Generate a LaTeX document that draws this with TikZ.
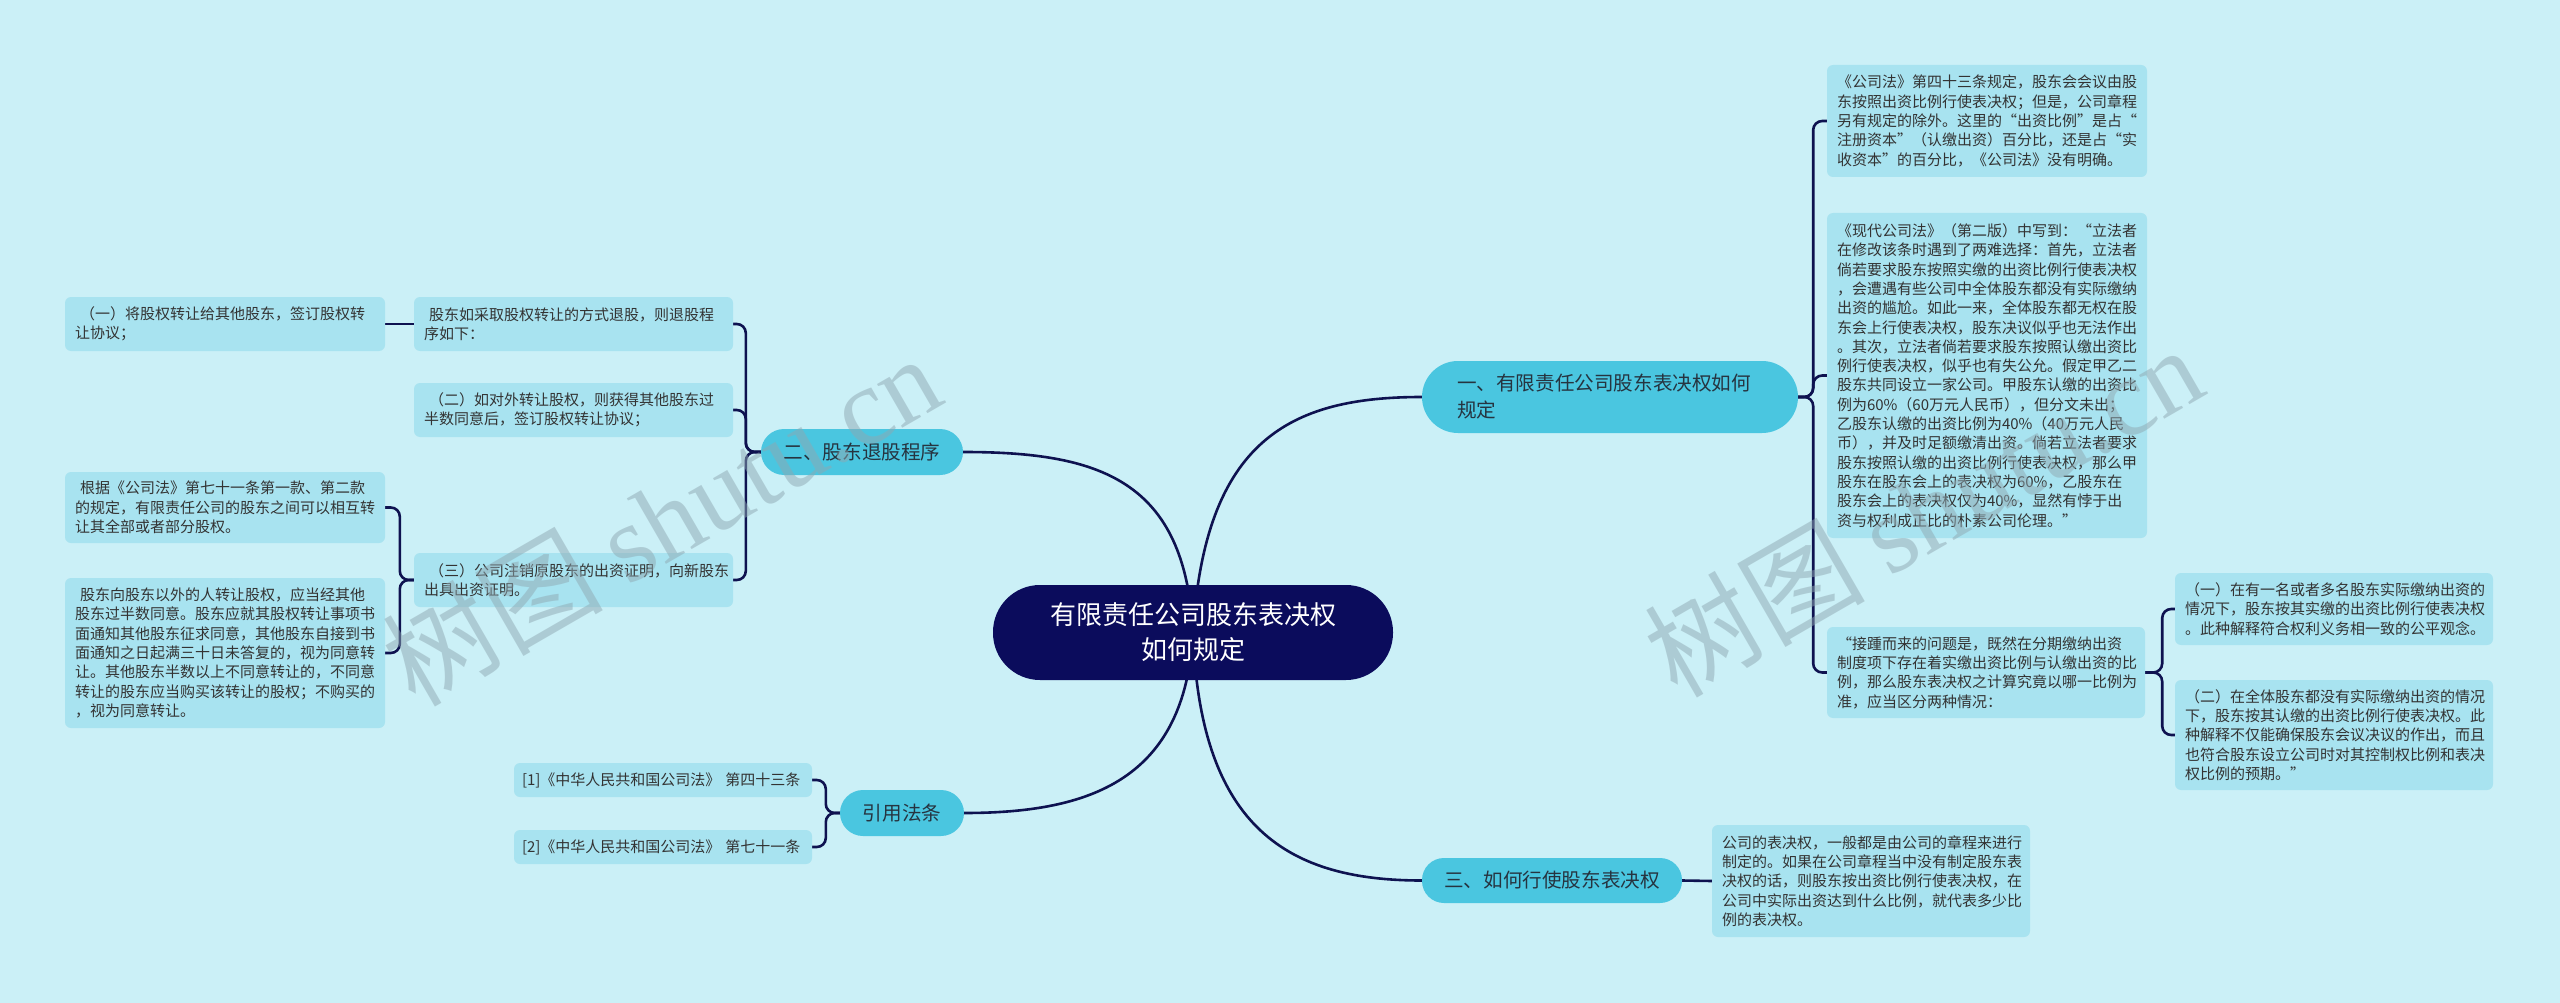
\documentclass[tikz,border=0pt]{standalone}
\usepackage{fontspec}
\setmainfont{Noto Sans CJK SC}
\newfontfamily\wmserif{Liberation Serif}
\usetikzlibrary{backgrounds}
\definecolor{bgc}{HTML}{CBF0F7}
\definecolor{leafc}{HTML}{A8E3F0}
\definecolor{branchc}{HTML}{4AC6E0}
\definecolor{rootc}{HTML}{0B0C5C}
\definecolor{linec}{HTML}{0E1250}
\definecolor{leaftext}{HTML}{333333}
\definecolor{branchtext}{HTML}{263440}
\definecolor{wmc}{HTML}{8FA8B2}
\tikzset{
 leaf/.style={fill=leafc, rounded corners=6pt, inner xsep=10pt, inner ysep=0pt, align=left, text=leaftext, font=\fontsize{15}{19.3}\selectfont},
 pill/.style={fill=branchc, inner sep=0pt, text=branchtext, font=\fontsize{19.6}{27}\selectfont},
 conn/.style={draw=linec, line width=2.6pt, rounded corners=9pt},
 curve/.style={draw=linec, line width=2.6pt},
 wm/.style={text=wmc, opacity=0.5, rotate=30, font=\fontsize{110}{110}\selectfont}
}
\begin{document}
\begin{tikzpicture}[x=1pt,y=-1pt]
\useasboundingbox (0,0) rectangle (2560,1003);
% root
\node[fill=rootc, text=white, align=center, minimum width=400pt, minimum height=95pt, rounded corners=47pt, inner sep=0pt, font=\fontsize{26}{35}\selectfont] (root) at (1193,632.5) {有限责任公司股东表决权\\如何规定};
% branches
\node[pill, align=left, text width=306pt, inner xsep=35pt, minimum height=72pt, rounded corners=36pt] (b1) at (1610,397) {一、有限责任公司股东表决权如何\\规定};
\node[pill, minimum width=202pt, minimum height=46pt, rounded corners=23pt] (b2) at (862,452) {二、股东退股程序};
\node[pill, minimum width=260pt, minimum height=45pt, rounded corners=22pt] (b3) at (1552,880.5) {三、如何行使股东表决权};
\node[pill, minimum width=124pt, minimum height=46pt, rounded corners=23pt] (b4) at (902,813) {引用法条};
% right leaves
\node[leaf, text width=300pt, minimum height=112pt] (r1) at (1987,121) {《公司法》第四十三条规定，股东会会议由股\\东按照出资比例行使表决权；但是，公司章程\\另有规定的除外。这里的“出资比例”是占“\\注册资本”（认缴出资）百分比，还是占“实\\收资本”的百分比，《公司法》没有明确。};
\node[leaf, text width=300pt, minimum height=325pt] (r2) at (1987,375.5) {《现代公司法》（第二版）中写到：“立法者\\在修改该条时遇到了两难选择：首先，立法者\\倘若要求股东按照实缴的出资比例行使表决权\\，会遭遇有些公司中全体股东都没有实际缴纳\\出资的尴尬。如此一来，全体股东都无权在股\\东会上行使表决权，股东决议似乎也无法作出\\。其次，立法者倘若要求股东按照认缴出资比\\例行使表决权，似乎也有失公允。假定甲乙二\\股东共同设立一家公司。甲股东认缴的出资比\\例为60\%（60万元人民币），但分文未出；\\乙股东认缴的出资比例为40\%（40万元人民\\币），并及时足额缴清出资。倘若立法者要求\\股东按照认缴的出资比例行使表决权，那么甲\\股东在股东会上的表决权为60\%，乙股东在\\股东会上的表决权仅为40\%，显然有悖于出\\资与权利成正比的朴素公司伦理。”};
\node[leaf, text width=298pt, minimum height=91pt] (r3) at (1986,672.5) {“接踵而来的问题是，既然在分期缴纳出资\\制度项下存在着实缴出资比例与认缴出资的比\\例，那么股东表决权之计算究竟以哪一比例为\\准，应当区分两种情况：};
\node[leaf, text width=298pt, minimum height=72pt] (rr1) at (2334,609) {（一）在有一名或者多名股东实际缴纳出资的\\情况下，股东按其实缴的出资比例行使表决权\\。此种解释符合权利义务相一致的公平观念。};
\node[leaf, text width=298pt, minimum height=110pt] (rr2) at (2334,735) {（二）在全体股东都没有实际缴纳出资的情况\\下，股东按其认缴的出资比例行使表决权。此\\种解释不仅能确保股东会议决议的作出，而且\\也符合股东设立公司时对其控制权比例和表决\\权比例的预期。”};
\node[leaf, text width=298pt, minimum height=112pt] (r4) at (1871,881) {公司的表决权，一般都是由公司的章程来进行\\制定的。如果在公司章程当中没有制定股东表\\决权的话，则股东按出资比例行使表决权，在\\公司中实际出资达到什么比例，就代表多少比\\例的表决权。};
% left leaves
\node[leaf, text width=299pt, minimum height=54pt] (l1) at (573.5,324) {\hspace*{5pt}股东如采取股权转让的方式退股，则退股程\\序如下：};
\node[leaf, text width=299pt, minimum height=54pt] (l2) at (573.5,410) {\hspace*{5pt}（二）如对外转让股权，则获得其他股东过\\半数同意后，签订股权转让协议；};
\node[leaf, text width=299pt, minimum height=54pt] (l3) at (573.5,580) {\hspace*{5pt}（三）公司注销原股东的出资证明，向新股东\\出具出资证明。};
\node[leaf, text width=300pt, minimum height=54pt] (ll1) at (225,324) {\hspace*{5pt}（一）将股权转让给其他股东，签订股权转\\让协议；};
\node[leaf, text width=300pt, minimum height=71pt] (ll3) at (225,507.5) {\hspace*{5pt}根据《公司法》第七十一条第一款、第二款\\的规定，有限责任公司的股东之间可以相互转\\让其全部或者部分股权。};
\node[leaf, text width=300pt, minimum height=150pt] (ll4) at (225,653) {\hspace*{5pt}股东向股东以外的人转让股权，应当经其他\\股东过半数同意。股东应就其股权转让事项书\\面通知其他股东征求同意，其他股东自接到书\\面通知之日起满三十日未答复的，视为同意转\\让。其他股东半数以上不同意转让的，不同意\\转让的股东应当购买该转让的股权；不购买的\\，视为同意转让。};
\node[leaf, inner xsep=8pt, text width=282pt, minimum height=34pt] (c1) at (663,780) {\mbox{[1]《中华人民共和国公司法》 第四十三条}};
\node[leaf, inner xsep=8pt, text width=282pt, minimum height=34pt] (c2) at (663,847) {\mbox{[2]《中华人民共和国公司法》 第七十一条}};
% connectors
\begin{scope}[on background layer]
\fill[bgc] (0,0) rectangle (2560,1003);
\draw[curve] (root.center) .. controls (1205,440) and (1290,397) .. (b1.west);
\draw[curve] (root.center) .. controls (1185,480) and (1100,452) .. (b2.east);
\draw[curve] (root.center) .. controls (1200,830) and (1290,880.5) .. (b3.west);
\draw[curve] (root.center) .. controls (1185,780) and (1090,813) .. (b4.east);
\draw[conn] (b1.east) -- ++(15,0) |- (r1.west);
\draw[conn] (b1.east) -- ++(15,0) |- (r2.west);
\draw[conn] (b1.east) -- ++(15,0) |- (r3.west);
\draw[conn] (r3.east) -- ++(17,0) |- (rr1.west);
\draw[conn] (r3.east) -- ++(17,0) |- (rr2.west);
\draw[conn] (b3.east) -- (r4.west);
\draw[conn] (b2.west) -- ++(-15,0) |- (l1.east);
\draw[conn] (b2.west) -- ++(-15,0) |- (l2.east);
\draw[conn] (b2.west) -- ++(-15,0) |- (l3.east);
\draw[conn] (l1.west) -- (ll1.east);
\draw[conn] (l3.west) -- ++(-14,0) |- (ll3.east);
\draw[conn] (l3.west) -- ++(-14,0) |- (ll4.east);
\draw[conn] (b4.west) -- ++(-14,0) |- (c1.east);
\draw[conn] (b4.west) -- ++(-14,0) |- (c2.east);
\end{scope}
% watermarks
\node[wm] (wm1) at (661,519) {树图 {\wmserif shutu.cn}};
\node[wm] (wm2) at (1923,510) {树图 {\wmserif shutu.cn}};
\end{tikzpicture}
\end{document}
